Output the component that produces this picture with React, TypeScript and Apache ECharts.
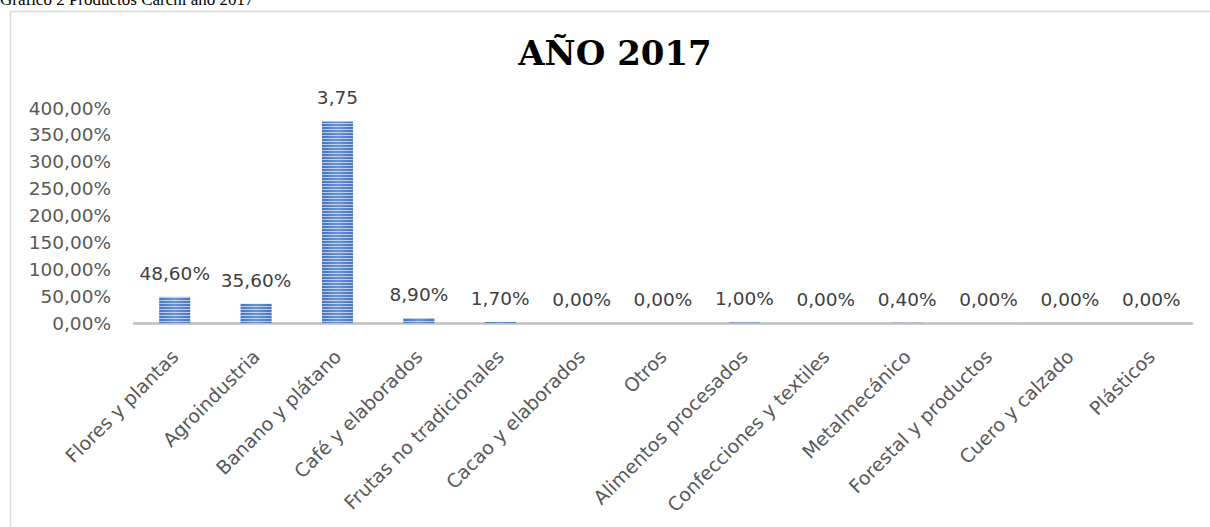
import React, { useEffect, useRef } from "react";
import * as echarts from "echarts";

const categories = [
  "Flores y plantas",
  "Agroindustria",
  "Banano y plátano",
  "Café y elaborados",
  "Frutas no tradicionales",
  "Cacao y elaborados",
  "Otros",
  "Alimentos procesados",
  "Confecciones y textiles",
  "Metalmecánico",
  "Forestal y productos",
  "Cuero y calzado",
  "Plásticos",
];
const values = [0.486, 0.356, 3.75, 0.089, 0.017, 0, 0, 0.01, 0, 0.004, 0, 0, 0];
const dataLabels = [
  "48,60%", "35,60%", "3,75", "8,90%", "1,70%", "0,00%", "0,00%",
  "1,00%", "0,00%", "0,40%", "0,00%", "0,00%", "0,00%",
];
const yTicks = [0, 0.5, 1, 1.5, 2, 2.5, 3, 3.5, 4];
const chartTitle = "AÑO 2017";
const caption = "Gráfico 2 Productos Carchi año 2017";

const labelFont = "DejaVu Sans";

export default function App() {
  const ref = useRef<HTMLDivElement>(null);
  useEffect(() => {
    if (!ref.current) return;
    const chart = echarts.init(ref.current, undefined, { renderer: "svg" });
    const barColor = new echarts.graphic.LinearGradient(0, 0, 1, 0, [
      { offset: 0, color: "#4674bd" },
      { offset: 0.5, color: "#6b94d4" },
      { offset: 1, color: "#4674bd" },
    ]);
    chart.setOption({
      animation: false,
      backgroundColor: "#ffffff",
      title: {
        text: chartTitle,
        left: 610,
        top: 31,
        textAlign: "center",
        textStyle: {
          fontFamily: "DejaVu Serif",
          fontWeight: "bold",
          fontSize: 34,
          color: "#000000",
        },
      },
      graphic: [
        {
          type: "rect",
          shape: { x: 10.5, y: 11.5, width: 1300, height: 600 },
          style: { fill: "none", stroke: "#d9d9d9", lineWidth: 1.5 },
          silent: true,
          z: -1,
        },
        {
          type: "text",
          x: 0,
          y: 8,
          style: {
            text: caption,
            font: "17px 'Liberation Serif'",
            fill: "#000000",
            verticalAlign: "bottom",
            align: "left",
          },
          silent: true,
        },
      ],
      grid: { left: 134, right: 18, top: 108, bottom: 204, containLabel: false },
      xAxis: {
        type: "category",
        data: categories,
        axisLine: { show: true, lineStyle: { color: "#bfbfbf", width: 2.5 } },
        axisTick: { show: false },
        axisLabel: {
          rotate: 45,
          interval: 0,
          margin: 30,
          color: "#595959",
          fontFamily: labelFont,
          fontSize: 19,
        },
      },
      yAxis: {
        type: "value",
        min: 0,
        max: yTicks[yTicks.length - 1],
        interval: 0.5,
        axisLine: { show: false },
        axisTick: { show: false },
        splitLine: { show: false },
        axisLabel: {
          margin: 23,
          color: "#595959",
          fontFamily: labelFont,
          fontSize: 18.5,
          formatter: (v: number) => (v * 100).toFixed(2).replace(".", ",") + "%",
        },
      },
      series: [
        {
          type: "bar",
          data: values,
          barWidth: 31,
          itemStyle: {
            color: barColor,
            borderWidth: 0,
            decal: {
              symbol: "rect",
              symbolSize: 1,
              dashArrayX: [1, 0],
              dashArrayY: [1, 2],
              rotation: 0,
              color: "rgba(255,255,255,0.6)",
            },
          },
          label: {
            show: true,
            position: "top",
            distance: 14,
            color: "#404040",
            fontFamily: labelFont,
            fontSize: 18.5,
            formatter: (p: any) => dataLabels[p.dataIndex],
          },
        },
      ],
    });
    return () => chart.dispose();
  }, []);
  return (
    <div
      ref={ref}
      style={{ position: "absolute", left: 0, top: 0, width: 1210, height: 527, background: "#fff" }}
    />
  );
}
